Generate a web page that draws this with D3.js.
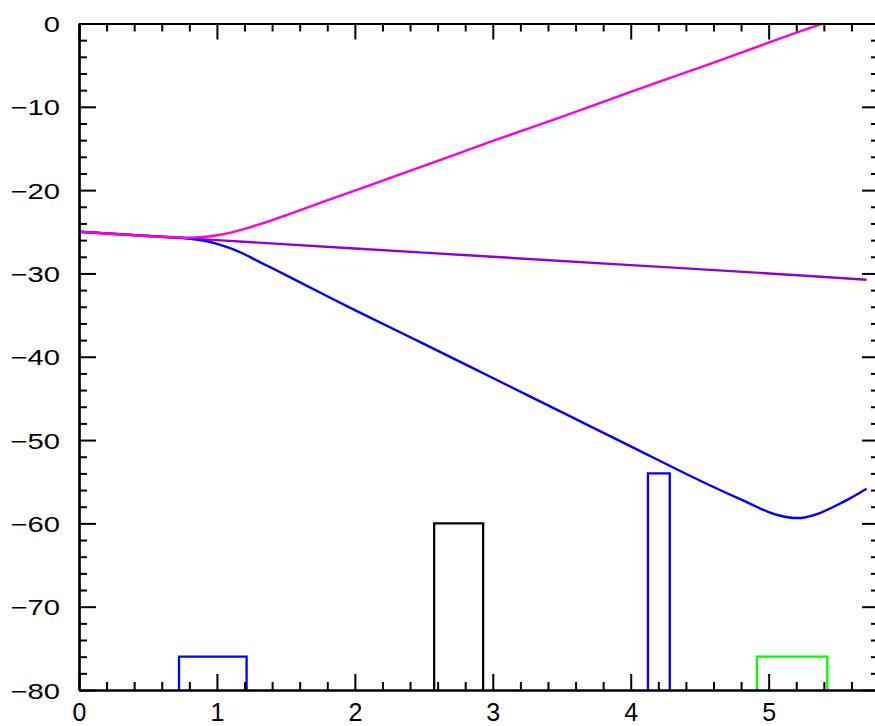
<!DOCTYPE html>
<html>
<head>
<meta charset="utf-8">
<script src="https://cdn.jsdelivr.net/npm/d3@7"></script>
<style>
  html, body { margin: 0; padding: 0; background: #fff; }
  svg { display: block; }
  text { font-family: "Liberation Sans", Arial, sans-serif; fill: #000; }
</style>
</head>
<body>
<svg id="chart" width="875" height="726"></svg>
<script>
// Response curves (dB) over frequency
const xValues       = [0, 0.2, 0.4, 0.6, 0.8, 0.9, 1.0, 1.1, 1.2, 1.3, 1.4, 1.5, 2.0, 2.5, 3.0, 3.5, 4.0, 4.5, 4.86, 5.0, 5.1, 5.18, 5.26, 5.35, 5.49, 5.59, 5.71];
const blueCurve     = [-25.0, -25.2, -25.4, -25.6, -25.8, -26.05, -26.45, -27.0, -27.7, -28.55, -29.37, -30.2, -34.4, -38.45, -42.55, -46.65, -50.75, -54.85, -57.6, -58.65, -59.15, -59.35, -59.3, -58.9, -57.85, -57.0, -55.85];

const magentaX      = [0, 0.2, 0.4, 0.6, 0.8, 0.9, 1.0, 1.1, 1.2, 1.3, 1.4, 1.5, 2.0, 2.5, 3.0, 3.5, 4.0, 4.5, 5.0, 5.39];
const magentaCurve  = [-25.0, -25.2, -25.4, -25.6, -25.72, -25.62, -25.42, -25.1, -24.65, -24.15, -23.6, -23.02, -20.05, -17.1, -14.1, -11.2, -8.2, -5.3, -2.3, 0];

const purpleX       = [0, 1.0, 2.0, 3.0, 4.0, 5.0, 5.71];
const purpleCurve   = [-25.0, -26.0, -27.0, -28.0, -29.0, -30.0, -30.75];

// Band markers
const bandStart     = [0.725, 2.575, 4.125, 4.915];
const bandEnd       = [1.215, 2.93, 4.283, 5.425];
const bandLevel     = [-76, -60, -54, -76];
const bandColor     = ["#0000ff", "#000000", "#0000ff", "#00ff00"];

// Axis ticks
const xTicks        = [0, 1, 2, 3, 4, 5];
const yTicks        = [0, -10, -20, -30, -40, -50, -60, -70, -80];

const margin = { left: 79, top: 23.5, right: 879, bottom: 690 };
const svg = d3.select("#chart");

const x = d3.scaleLinear().domain([0, 5.8]).range([margin.left, margin.right]);
const y = d3.scaleLinear().domain([-80, 0]).range([margin.bottom, margin.top]);

svg.append("defs").append("clipPath").attr("id", "plot")
  .append("rect")
  .attr("x", margin.left).attr("y", margin.top)
  .attr("width", margin.right - margin.left).attr("height", margin.bottom - margin.top);

const plot = svg.append("g").attr("clip-path", "url(#plot)");

// bands
const bands = bandStart.map((s, i) => ({ s, e: bandEnd[i], v: bandLevel[i], c: bandColor[i] }));
plot.selectAll("path.band").data(bands).join("path")
  .attr("class", "band")
  .attr("fill", "none")
  .attr("stroke-width", 2.3)
  .attr("stroke", d => d.c)
  .attr("d", d => `M${x(d.s)},${y(-80)}V${y(d.v)}H${x(d.e)}V${y(-80)}`);

// curves
const line = d3.line().x(d => x(d[0])).y(d => y(d[1])).curve(d3.curveCatmullRom.alpha(0.5));
const curves = [
  { xs: purpleX,  ys: purpleCurve,  c: "#9400d3" },
  { xs: xValues,  ys: blueCurve,    c: "#0000ff" },
  { xs: magentaX, ys: magentaCurve, c: "#ff00dd" }
];
curves.forEach(cv => {
  plot.append("path")
    .datum(cv.xs.map((v, i) => [v, cv.ys[i]]))
    .attr("fill", "none")
    .attr("stroke", cv.c)
    .attr("stroke-width", 2.4)
    .attr("stroke-linejoin", "round")
    .attr("d", line);
});

// axes: ticks point inward, mirrored on top and right
const xMinor = d3.range(0, 5.81, 0.2).map(v => +v.toFixed(2)).filter(v => Math.abs(v - Math.round(v)) > 1e-6);
const yMinor = d3.range(-80, 0.1, 2).filter(v => v % 10 !== 0);

function styleAxis(g) {
  g.selectAll("path.domain").attr("stroke", "#000").attr("stroke-width", 2.2);
  g.selectAll(".tick line").attr("stroke", "#000").attr("stroke-width", 2);
}

const fmt = d => d < 0 ? "\u2212" + Math.abs(d) : String(d);

// bottom
const gb = svg.append("g").attr("transform", `translate(0,${margin.bottom})`)
  .call(d3.axisBottom(x).tickValues(xTicks).tickSizeInner(-16).tickSizeOuter(0).tickPadding(14).tickFormat(fmt));
gb.call(styleAxis);
gb.selectAll(".tick text").attr("font-size", 25).attr("dy", "0.71em").attr("y", 13);
svg.append("g").attr("transform", `translate(0,${margin.bottom})`)
  .call(d3.axisBottom(x).tickValues(xMinor).tickSizeInner(-8).tickSizeOuter(0).tickFormat(""))
  .call(styleAxis);

// top
svg.append("g").attr("transform", `translate(0,${margin.top})`)
  .call(d3.axisTop(x).tickValues(xTicks).tickSizeInner(-16).tickSizeOuter(0).tickFormat(""))
  .call(styleAxis);
svg.append("g").attr("transform", `translate(0,${margin.top})`)
  .call(d3.axisTop(x).tickValues(xMinor).tickSizeInner(-8).tickSizeOuter(0).tickFormat(""))
  .call(styleAxis);

// left
const gl = svg.append("g").attr("transform", `translate(${margin.left},0)`)
  .call(d3.axisLeft(y).tickValues(yTicks).tickSizeInner(-17).tickSizeOuter(0).tickFormat(fmt));
gl.call(styleAxis);
gl.selectAll(".tick text")
  .attr("font-size", 22.5)
  .attr("x", 0).attr("dy", "0.36em")
  .attr("transform", "translate(-19,0) scale(1.3,1)");
svg.append("g").attr("transform", `translate(${margin.left},0)`)
  .call(d3.axisLeft(y).tickValues(yMinor).tickSizeInner(-8).tickSizeOuter(0).tickFormat(""))
  .call(styleAxis);

// right
svg.append("g").attr("transform", `translate(${margin.right},0)`)
  .call(d3.axisRight(y).tickValues(yTicks).tickSizeInner(-17).tickSizeOuter(0).tickFormat(""))
  .call(styleAxis);
svg.append("g").attr("transform", `translate(${margin.right},0)`)
  .call(d3.axisRight(y).tickValues(yMinor).tickSizeInner(-8).tickSizeOuter(0).tickFormat(""))
  .call(styleAxis);
</script>
</body>
</html>
